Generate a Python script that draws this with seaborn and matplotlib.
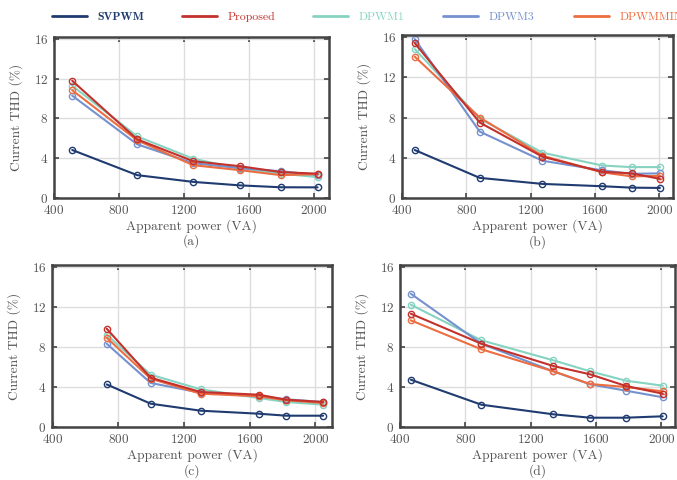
import numpy as np
import pandas as pd
import matplotlib
matplotlib.use("Agg")
import matplotlib.pyplot as plt
import seaborn as sns
from matplotlib.lines import Line2D

# series names and colours
metodos = ["SVPWM", "Proposed", "DPWM1", "DPWM3", "DPWMMIN"]
colores = {"SVPWM": "#1f3b70", "Proposed": "#c3312c", "DPWM1": "#86d3c1",
           "DPWM3": "#7592cf", "DPWMMIN": "#ec6d41"}

# panel (a)
pot_a = [512, 912, 1257, 1544, 1796, 2022]
thd_a = {"SVPWM":    [4.83, 2.30, 1.62, 1.27, 1.08, 1.07],
         "Proposed": [11.8, 5.90, 3.70, 3.20, 2.60, 2.45],
         "DPWM1":    [11.3, 6.20, 3.95, 2.95, 2.45, 2.10],
         "DPWM3":    [10.3, 5.40, 3.50, 3.00, 2.70, 2.30],
         "DPWMMIN":  [10.85, 5.80, 3.30, 2.80, 2.30, 2.40]}

# panel (b)
pot_b = [479, 883, 1273, 1644, 1827, 2003]
thd_b = {"SVPWM":    [4.77, 2.00, 1.40, 1.17, 1.03, 1.00],
         "Proposed": [15.4, 7.50, 4.10, 2.60, 2.45, 1.90],
         "DPWM1":    [14.8, 7.90, 4.50, 3.23, 3.07, 3.07],
         "DPWM3":    [15.8, 6.60, 3.70, 2.75, 2.40, 2.45],
         "DPWMMIN":  [14.05, 8.00, 4.20, 2.55, 2.15, 2.20]}

# panel (c)
pot_c = [729, 997, 1301, 1655, 1822, 2047]
thd_c = {"SVPWM":    [4.26, 2.33, 1.63, 1.33, 1.13, 1.13],
         "Proposed": [9.83, 4.93, 3.50, 3.23, 2.73, 2.50],
         "DPWM1":    [9.23, 5.23, 3.77, 2.90, 2.50, 2.23],
         "DPWM3":    [8.33, 4.40, 3.43, 3.07, 2.77, 2.50],
         "DPWMMIN":  [8.93, 4.83, 3.33, 3.07, 2.67, 2.40]}

# panel (d)
pot_d = [466, 898, 1338, 1563, 1783, 2008]
thd_d = {"SVPWM":    [4.73, 2.23, 1.27, 0.93, 0.93, 1.07],
         "Proposed": [11.33, 8.33, 6.10, 5.27, 4.10, 3.33],
         "DPWM1":    [12.23, 8.67, 6.67, 5.57, 4.63, 4.13],
         "DPWM3":    [13.33, 8.33, 5.57, 4.27, 3.63, 2.97],
         "DPWMMIN":  [10.67, 7.77, 5.57, 4.30, 4.00, 3.57]}

xticks = [400, 800, 1200, 1600, 2000]
yticks = [0, 4, 8, 12, 16]

sns.set_theme(style="whitegrid")
plt.rcParams["font.family"] = ["cmr10", "DejaVu Serif"]
plt.rcParams["mathtext.fontset"] = "cm"
plt.rcParams["axes.formatter.use_mathtext"] = True

gris = "#555555"
marco = "#444444"

fig = plt.figure(figsize=(6.77, 4.8), dpi=100)
W, H = 677.0, 480.0


def caja(l, t, r, b):
    return [l / W, 1 - b / H, (r - l) / W, (b - t) / H]


paneles = [
    ("(a)", pot_a, thd_a, caja(54, 37, 329, 198), (400, 2092)),
    ("(b)", pot_b, thd_b, caja(402, 35, 673, 198), (400, 2084)),
    ("(c)", pot_c, thd_c, caja(52, 265, 332, 427), (396, 2101)),
    ("(d)", pot_d, thd_d, caja(400, 265, 675, 427), (400, 2083)),
]

orden = ["SVPWM", "DPWM1", "DPWM3", "DPWMMIN", "Proposed"]

for letra, pot, thd, pos, xl in paneles:
    ax = fig.add_axes(pos)
    filas = []
    for m in orden:
        for p, v in zip(pot, thd[m]):
            filas.append({"pot": p, "thd": v, "metodo": m})
    df = pd.DataFrame(filas)
    sns.lineplot(data=df, x="pot", y="thd", hue="metodo", hue_order=orden,
                 palette=colores, marker="o", markersize=4.5, markerfacecolor="none",
                 markeredgewidth=1.0, linewidth=1.5, sort=False, legend=False, ax=ax)
    for ln in ax.lines:
        ln.set_markeredgecolor(ln.get_color())
        ln.set_markerfacecolor("none")
    ax.set_xlim(*xl)
    ax.set_ylim(0, 16.2)
    ax.set_xticks(xticks)
    ax.set_yticks(yticks)
    ax.grid(True, color="#dddddd", linewidth=1.0)
    ax.set_facecolor("white")
    for s in ax.spines.values():
        s.set_color(marco)
        s.set_linewidth(1.8)
    ax.tick_params(direction="in", length=3.5, width=1.2, color=marco,
                   top=True, right=True, bottom=True, left=True,
                   labelsize=9.5, labelcolor=gris, pad=4)
    ax.set_xlabel("Apparent power (VA)", fontsize=9.7, color=gris, labelpad=2)
    ax.set_ylabel("Current THD (%)", fontsize=9.7, color=gris, labelpad=8)
    ax.text(0.5, -0.27, letra, transform=ax.transAxes, ha="center", va="center",
            fontsize=9.7, color=gris)

# legend row with fixed spacing
for i, m in enumerate(metodos):
    x0 = (48 + i * 130.5) / W
    h = Line2D([], [], color=colores[m], linewidth=2.0)
    leg = fig.legend([h], [m], loc="center left", bbox_to_anchor=(x0, 1 - 17 / H),
                     frameon=False, fontsize=8.5, handlelength=3.0, handletextpad=0.9,
                     borderaxespad=0, borderpad=0.3)
    t = leg.get_texts()[0]
    t.set_color(colores[m])
    if m == "SVPWM":
        t.set_fontfamily(["cmb10", "DejaVu Serif"])

fig.savefig("out.png", dpi=100)
